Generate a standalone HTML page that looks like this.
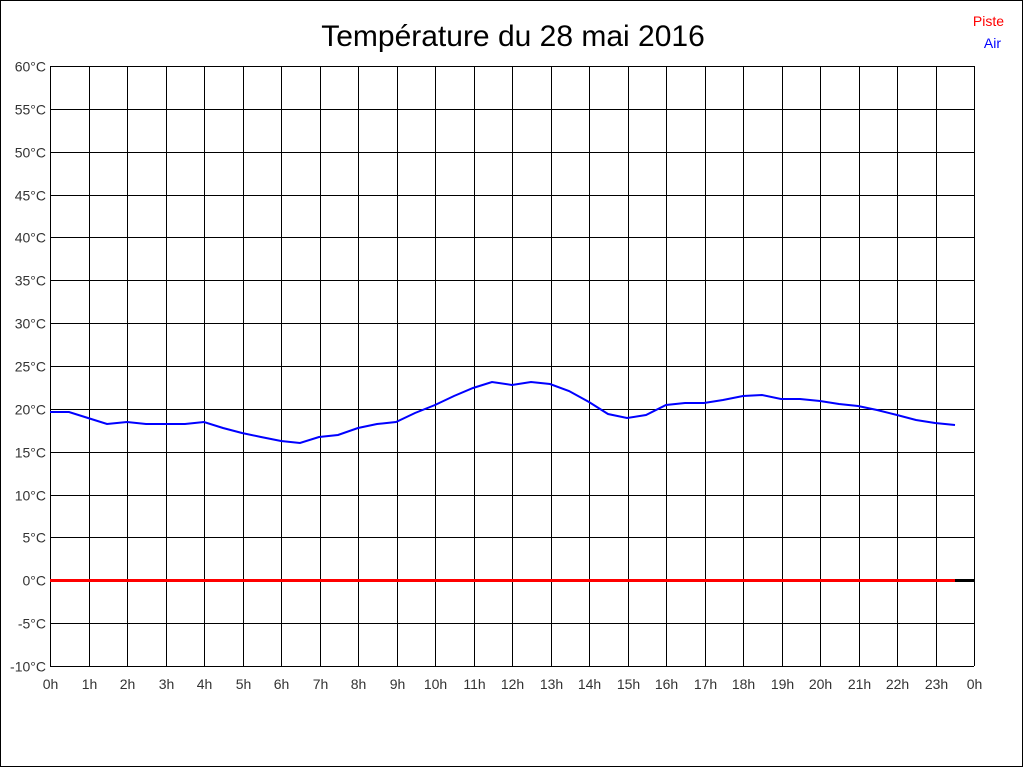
<!DOCTYPE html>
<html><head><meta charset="utf-8"><style>html,body{margin:0;padding:0;background:#fff}</style></head><body>
<svg width="1024" height="768" xmlns="http://www.w3.org/2000/svg" font-family="Liberation Sans, sans-serif">
<rect x="0.5" y="0.5" width="1022" height="766" fill="#fff" stroke="#000"/>
<g stroke="#000" stroke-width="1" shape-rendering="crispEdges" id="grid"></g>
<g font-size="14" fill="#333" id="lbl"></g>
<text x="513" y="46" text-anchor="middle" font-size="30" fill="#000">Température du 28 mai 2016</text>
<text x="1004" y="26" text-anchor="end" font-size="14" fill="#f00">Piste</text>
<text x="1001" y="48" text-anchor="end" font-size="14" fill="#00f">Air</text>
<line x1="50" y1="580.5" x2="955" y2="580.5" stroke="#f00" stroke-width="3"/>
<line x1="955" y1="580.5" x2="974" y2="580.5" stroke="#000" stroke-width="3"/>
<polyline fill="none" stroke="#00f" stroke-width="2" points="50,412 69,412 88,418 107,424 127,422 146,424 165,424 185,424 204,422 223,428 242,433 261,437 281,441 300,443 319,437 338,435 358,428 377,424 396,422 415,413 435,405 454,396 473,388 492,382 512,385 531,382 550,384 569,391 589,402 608,414 627,418 646,415 666,405 685,403 704,403 723,400 743,396 762,395 781,399 800,399 820,401 839,404 858,406 877,410 897,415 916,420 935,423 955,425"/>
<script>
var g=document.getElementById('grid'),l=document.getElementById('lbl'),ns='http://www.w3.org/2000/svg';
function el(p,t,a,txt){var e=document.createElementNS(ns,t);for(var k in a)e.setAttribute(k,a[k]);if(txt)e.textContent=txt;p.appendChild(e);}
for(var i=0;i<=14;i++){var y=Math.round(66+i*600/14)+0.5;el(g,'line',{x1:50,x2:974,y1:y,y2:y});
el(l,'text',{x:46,y:y+5,'text-anchor':'end'},(60-5*i)+'°C');}
for(var h=0;h<=24;h++){var x=Math.round(50+h*38.5)+0.5;el(g,'line',{x1:x,x2:x,y1:66,y2:666});
el(l,'text',{x:x,y:689,'text-anchor':'middle'},(h%24)+'h');}
</script>
</svg>
</body></html>
